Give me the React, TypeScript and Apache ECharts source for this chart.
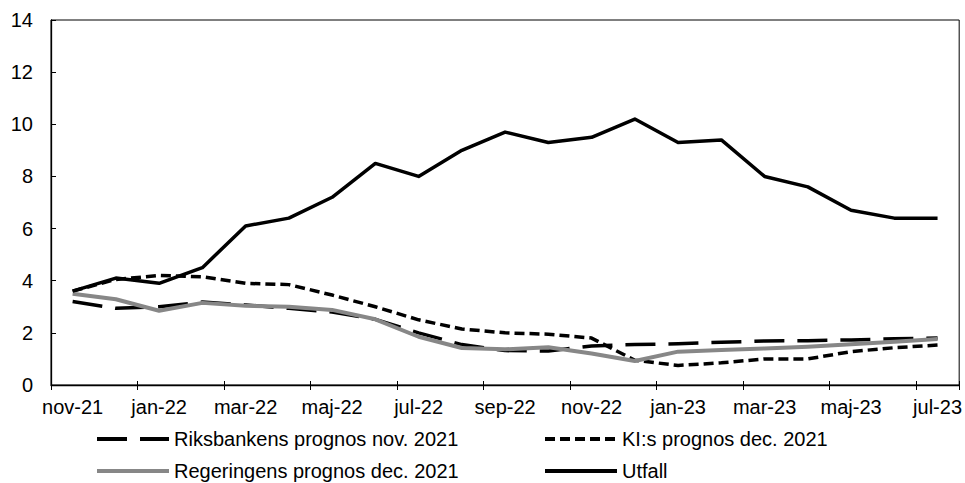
import React, { useEffect, useRef } from "react";
import * as echarts from "echarts";

const categories = [
  "nov-21", "dec-21", "jan-22", "feb-22", "mar-22", "apr-22", "maj-22", "jun-22",
  "jul-22", "aug-22", "sep-22", "okt-22", "nov-22", "dec-22", "jan-23", "feb-23",
  "mar-23", "apr-23", "maj-23", "jun-23", "jul-23",
];

const riksbanken = [3.2, 2.94, 3.0, 3.18, 3.07, 2.94, 2.8, 2.52, 2.0, 1.55, 1.32, 1.3, 1.5, 1.55, 1.58, 1.64, 1.69, 1.7, 1.73, 1.77, 1.8];
const ki = [3.6, 4.05, 4.2, 4.15, 3.9, 3.85, 3.45, 3.0, 2.5, 2.15, 2.0, 1.95, 1.8, 0.95, 0.75, 0.85, 1.0, 1.0, 1.28, 1.43, 1.53];
const regeringen = [3.5, 3.29, 2.85, 3.15, 3.04, 3.0, 2.88, 2.52, 1.85, 1.42, 1.37, 1.45, 1.21, 0.92, 1.28, 1.34, 1.4, 1.47, 1.56, 1.66, 1.76];
const utfall = [3.6, 4.1, 3.9, 4.5, 6.1, 6.4, 7.2, 8.5, 8.0, 9.0, 9.7, 9.3, 9.5, 10.2, 9.3, 9.4, 8.0, 7.6, 6.7, 6.4, 6.4];

const names = [
  "Riksbankens prognos nov. 2021",
  "KI:s prognos dec. 2021",
  "Regeringens prognos dec. 2021",
  "Utfall",
];

const FONT = "'Liberation Sans', Arial, sans-serif";

export default function App() {
  const ref = useRef<HTMLDivElement>(null);
  useEffect(() => {
    if (!ref.current) return;
    const chart = echarts.init(ref.current, null, { renderer: "svg" });
    const legendBase = {
      orient: "horizontal",
      padding: 0,
      itemWidth: 72,
      itemHeight: 2,
      itemGap: 0,
      textStyle: { fontFamily: FONT, fontSize: 20, color: "#000" },
      itemStyle: { opacity: 0 },
      lineStyle: { width: 4 },
      selectedMode: false,
    };
    const lineSeries = (name: string, data: number[], color: string, type: any, width: number, z: number) => ({
      name,
      type: "line",
      data,
      symbol: "none",
      z,
      lineStyle: { color, width, type, cap: "butt", join: "round" },
      itemStyle: { color },
    });
    chart.setOption({
      animation: false,
      textStyle: { fontFamily: FONT },
      grid: {
        left: 51,
        right: 5,
        top: 20,
        bottom: 98,
        show: true,
        borderColor: "#000",
        borderWidth: 1,
        backgroundColor: "transparent",
      },
      legend: [
        { ...legendBase, data: [names[0]], left: 95, top: 429 },
        { ...legendBase, data: [names[1]], left: 543, top: 429 },
        { ...legendBase, data: [names[2]], left: 95, top: 461 },
        { ...legendBase, data: [names[3]], left: 543, top: 461 },
      ],
      xAxis: [
        {
          type: "category",
          data: categories,
          position: "bottom",
          boundaryGap: true,
          axisLine: { show: true, lineStyle: { color: "#000", width: 1.3 } },
          axisTick: { show: true, interval: 1, length: 5, lineStyle: { color: "#000", width: 1 } },
          axisLabel: {
            interval: 1,
            margin: 12,
            fontFamily: FONT,
            fontSize: 20,
            color: "#000",
          },
          splitLine: { show: false },
        },
        {
          type: "category",
          data: categories,
          position: "bottom",
          boundaryGap: true,
          axisLine: { show: false },
          axisTick: { show: true, inside: true, interval: 1, length: 4, lineStyle: { color: "#000", width: 1 } },
          axisLabel: { show: false, interval: 1 },
          splitLine: { show: false },
        },
      ],
      yAxis: {
        type: "value",
        min: 0,
        max: 14,
        interval: 2,
        axisLine: { show: true, lineStyle: { color: "#000", width: 1.3 } },
        axisTick: { show: true, inside: true, length: 5, lineStyle: { color: "#000", width: 1 } },
        axisLabel: { margin: 18, fontFamily: FONT, fontSize: 20, color: "#000" },
        splitLine: { show: false },
      },
      series: [
        lineSeries(names[0], riksbanken, "#000", [30, 13], 3.5, 2),
        lineSeries(names[1], ki, "#000", [10, 5], 3.5, 3),
        lineSeries(names[2], regeringen, "#878787", "solid", 4, 4),
        lineSeries(names[3], utfall, "#000", "solid", 3.5, 5),
      ],
    });
    return () => chart.dispose();
  }, []);
  return (
    <div
      ref={ref}
      style={{ position: "absolute", left: 0, top: 0, width: 965, height: 483, overflow: "hidden" }}
    />
  );
}
